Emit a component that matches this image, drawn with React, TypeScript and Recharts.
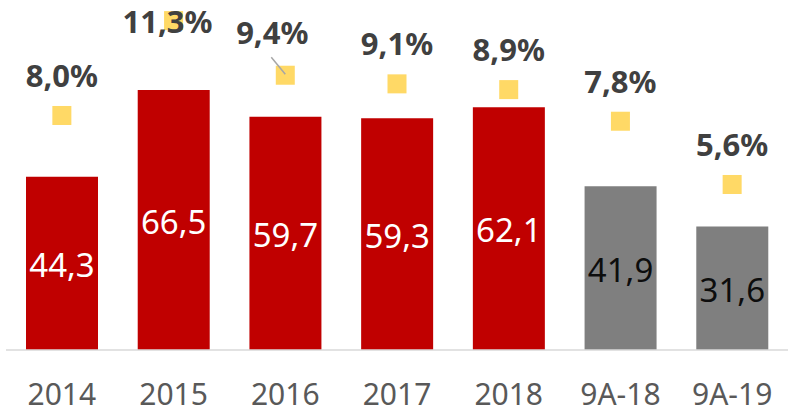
import { ComposedChart, Bar, Line, XAxis, YAxis, Cell, LabelList } from "recharts"

const periods = ["2014", "2015", "2016", "2017", "2018", "9A-18", "9A-19"]
const amounts = [44.3, 66.5, 59.7, 59.3, 62.1, 41.9, 31.6]
const growth = [8.0, 11.3, 9.4, 9.1, 8.9, 7.8, 5.6]
const partial = [false, false, false, false, false, true, true]

const data = periods.map((p, i) => ({
  period: p,
  amount: amounts[i],
  growth: growth[i],
  partial: partial[i],
}))

const colors = {
  red: "#C00000",
  gray: "#7F7F7F",
  yellow: "#FFD966",
  label: "#404040",
  axis: "#595959",
  axisLine: "#D9D9D9",
}

const font = "'Noto Sans', 'Open Sans', sans-serif"

// manual nudges for a couple of labels that sit off their marker in the original
const pctLabelNudge: Record<number, { dx: number; dy: number }> = {
  1: { dx: -6, dy: 41 },
  2: { dx: -13, dy: -3 },
}

const fmt = (v: number) => v.toFixed(1).replace(".", ",")

function SquareDot(props: any) {
  const { cx, cy, index } = props
  if (cx == null || cy == null) return null
  return <rect key={index} x={cx - 9.5} y={cy - 9.5} width={19} height={19} fill={colors.yellow} />
}

function PctLabel(props: any) {
  const { x, y, value, index } = props
  const nudge = pctLabelNudge[index] ?? { dx: 0, dy: 0 }
  return (
    <g>
      {index === 2 && (
        <line x1={x - 14} y1={y - 18} x2={x} y2={y - 1} stroke="#A6A6A6" strokeWidth={1.5} />
      )}
      <text
        x={x + nudge.dx}
        y={y - 28.5 + nudge.dy}
        textAnchor="middle"
        fontFamily={font}
        fontWeight={700}
        fontSize={31}
        fill={colors.label}
      >
        {fmt(value) + "%"}
      </text>
    </g>
  )
}

function AmountLabel(props: any) {
  const { x, y, width, height, value, index } = props
  return (
    <text
      x={x + width / 2}
      y={y + height / 2 + 1}
      textAnchor="middle"
      dominantBaseline="central"
      fontFamily={font}
      fontSize={33}
      fill={partial[index] ? "#0D0D0D" : "#FFFFFF"}
    >
      {fmt(value)}
    </text>
  )
}

function PeriodTick(props: any) {
  const { x, y, payload } = props
  return (
    <text x={x} y={y + 55} textAnchor="middle" fontFamily={font} fontSize={30} fill={colors.axis}>
      {payload.value}
    </text>
  )
}

export default function App() {
  return (
    <div style={{ position: "absolute", left: 0, top: 0, width: 796, height: 414, background: "#fff" }}>
      <ComposedChart width={796} height={414} data={data} margin={{ top: 6, right: 8, bottom: 4, left: 6 }}>
        <XAxis
          dataKey="period"
          height={60}
          tickLine={false}
          tickSize={0}
          tickMargin={0}
          axisLine={{ stroke: colors.axisLine, strokeWidth: 1.5 }}
          tick={<PeriodTick />}
          interval={0}
        />
        <YAxis yAxisId="amt" hide domain={[0, 88]} />
        <YAxis yAxisId="pct" hide orientation="right" domain={[-0.157, 11.808]} allowDataOverflow />
        <Bar yAxisId="amt" dataKey="amount" barSize={72} isAnimationActive={false}>
          {data.map((d, i) => (
            <Cell key={i} fill={d.partial ? colors.gray : colors.red} />
          ))}
          <LabelList dataKey="amount" content={<AmountLabel />} />
        </Bar>
        <Line
          yAxisId="pct"
          dataKey="growth"
          stroke="none"
          dot={<SquareDot />}
          activeDot={false}
          isAnimationActive={false}
          label={<PctLabel />}
        />
      </ComposedChart>
    </div>
  )
}
